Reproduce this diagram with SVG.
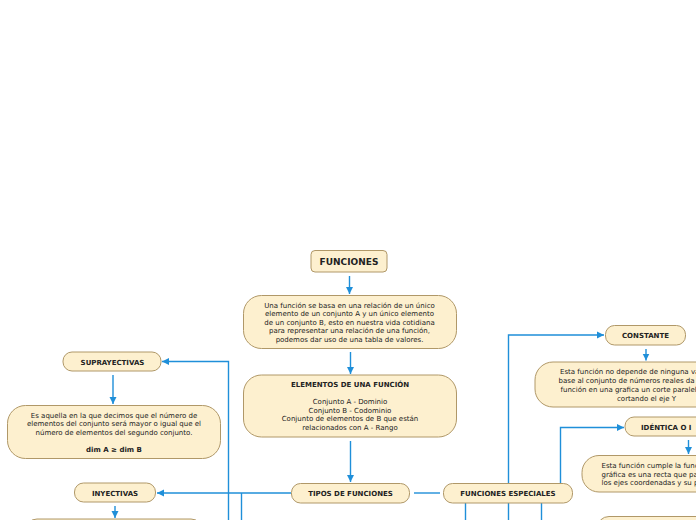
<svg xmlns="http://www.w3.org/2000/svg" width="696" height="520" viewBox="0 0 696 520">
<defs>
<style>
.n{fill:#fdf0cf;stroke:#b09868;stroke-width:1}
.t{font-family:"DejaVu Sans",Verdana,sans-serif;font-size:7px;fill:#222;text-anchor:middle}
.b{font-weight:bold}
.s{text-anchor:start}
.c{fill:none;stroke:#1f8fd9;stroke-width:1.4}
</style>
<marker id="ah" markerWidth="8" markerHeight="8" refX="7" refY="4" orient="auto" markerUnits="userSpaceOnUse">
<path d="M0,0.5 L7,4 L0,7.5 Z" fill="#1f8fd9"/>
</marker>
</defs>
<rect width="696" height="520" fill="#fff"/>
<g id="connectors">
<path class="c" d="M349.5,276 V294" marker-end="url(#ah)"/>
<path class="c" d="M350.5,352 V374" marker-end="url(#ah)"/>
<path class="c" d="M350.5,441 V482" marker-end="url(#ah)"/>
<path class="c" d="M291,493 H157" marker-end="url(#ah)"/>
<path class="c" d="M228.5,520 V361.5 H162" marker-end="url(#ah)"/>
<path class="c" d="M241.5,493 V520"/>
<path class="c" d="M113,375 V404" marker-end="url(#ah)"/>
<path class="c" d="M115,506 V518" marker-end="url(#ah)"/>
<path class="c" d="M414,493 H440"/>
<path class="c" d="M508.5,520 V335 H604" marker-end="url(#ah)"/>
<path class="c" d="M560.5,483 V427.5 H624" marker-end="url(#ah)"/>
<path class="c" d="M465.5,503 V520"/>
<path class="c" d="M541.5,503 V520"/>
<path class="c" d="M646,349 V360.5" marker-end="url(#ah)"/>
<path class="c" d="M688.5,440 V454" marker-end="url(#ah)"/>
</g>
<g id="funciones">
<rect class="n" x="311" y="250.5" width="76" height="21.5" rx="4"/>
<text class="t b" x="349" y="265" style="font-size:9px">FUNCIONES</text>
</g>
<g id="definicion">
<rect class="n" x="243.5" y="295.5" width="213" height="53" rx="18"/>
<text class="t" x="349.5" y="307.5">Una función se basa en una relación de un único</text>
<text class="t" x="349.5" y="316">elemento de un conjunto A y un único elemento</text>
<text class="t" x="349.5" y="324.5">de un conjunto B, esto en nuestra vida cotidiana</text>
<text class="t" x="349.5" y="333">para representar una relación de una función,</text>
<text class="t" x="349.5" y="341.5">podemos dar uso de una tabla de valores.</text>
</g>
<g id="elementos">
<rect class="n" x="243.5" y="375" width="213" height="62" rx="18"/>
<text class="t b" x="350" y="387">ELEMENTOS DE UNA FUNCIÓN</text>
<text class="t" x="350" y="404">Conjunto A - Dominio</text>
<text class="t" x="350" y="413">Conjunto B - Codominio</text>
<text class="t" x="350" y="421">Conjunto de elementos de B que están</text>
<text class="t" x="350" y="430">relacionados con A - Rango</text>
</g>
<g id="tipos">
<rect class="n" x="291.5" y="483.5" width="118" height="19.5" rx="9"/>
<text class="t b" x="350.5" y="496">TIPOS DE FUNCIONES</text>
</g>
<g id="especiales">
<rect class="n" x="443.5" y="483.5" width="129" height="19.5" rx="9"/>
<text class="t b" x="508" y="496">FUNCIONES ESPECIALES</text>
</g>
<g id="suprayectivas">
<rect class="n" x="63" y="352" width="98" height="19" rx="9"/>
<text class="t b" x="112.5" y="364.5">SUPRAYECTIVAS</text>
</g>
<g id="suprayectivas-desc">
<rect class="n" x="7.5" y="405.5" width="213" height="53" rx="18"/>
<text class="t" x="114" y="417.5">Es aquella en la que decimos que el número de</text>
<text class="t" x="114" y="426">elementos del conjunto será mayor o igual que el</text>
<text class="t" x="114" y="434.5">número de elementos del segundo conjunto.</text>
<text class="t b" x="114" y="451.5">dim A ≥ dim B</text>
</g>
<g id="inyectivas">
<rect class="n" x="74.5" y="483" width="81" height="19" rx="9"/>
<text class="t b" x="115" y="495.5">INYECTIVAS</text>
</g>
<g id="inyectivas-desc">
<rect class="n" x="25" y="519" width="178" height="30" rx="12"/>
</g>
<g id="constante">
<rect class="n" x="605.5" y="325.5" width="80" height="19.5" rx="9"/>
<text class="t b" x="645.5" y="338">CONSTANTE</text>
</g>
<g id="constante-desc">
<rect class="n" x="535" y="362" width="222" height="45" rx="18"/>
<text class="t s" x="560" y="374">Esta función no depende de ninguna va</text>
<text class="t s" x="558.5" y="383">base al conjunto de números reales da</text>
<text class="t s" x="560.5" y="391.5">función en una grafica un corte paralel</text>
<text class="t s" x="617" y="400.5">cortando el eje Y</text>
</g>
<g id="identica">
<rect class="n" x="625" y="417" width="120" height="19" rx="9"/>
<text class="t b s" x="641" y="429.5">IDÉNTICA O I</text>
</g>
<g id="identica-desc">
<rect class="n" x="582" y="455.5" width="160" height="36.5" rx="17"/>
<text class="t s" x="601.5" y="468">Esta función cumple la func</text>
<text class="t s" x="601.5" y="476.5">gráfica es una recta que pa</text>
<text class="t s" x="601.5" y="485">los ejes coordenadas y su p</text>
</g>
<g id="siguiente">
<rect class="n" x="597" y="516.5" width="120" height="30" rx="12"/>
</g>
</svg>
